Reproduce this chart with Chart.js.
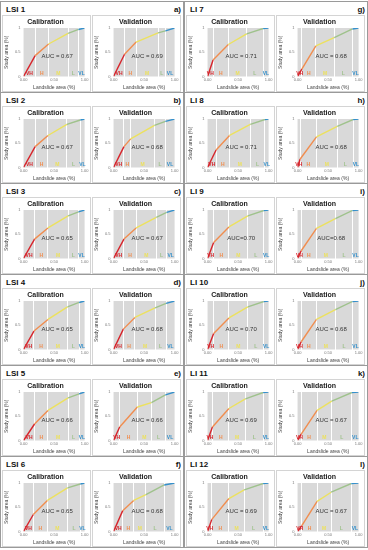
<!DOCTYPE html>
<html lang="en">
<head>
  <meta charset="UTF-8" />
  <title>Success rate curves</title>
  <script src="https://cdn.jsdelivr.net/npm/chart.js"></script>
  <style>
    * { box-sizing: border-box; }
    body { margin: 0; background: #fff; font-family: Arial, "Liberation Sans", sans-serif; }
    #fig { position: relative; width: 368px; height: 550px; }
    .panel { position: absolute; width: 184px; height: 92px; border: 1px solid #9a9a9a; }
    .panel .name { position: absolute; left: 5px; top: 3px; font-size: 8px; font-weight: bold; color: #111; }
    .panel .tag { position: absolute; right: 2px; top: 3px; font-size: 8px; font-weight: bold; color: #111; }
    .box { position: absolute; top: 13px; width: 89px; height: 77px; border: 1px solid #d4d4d4; }
    .box canvas { display: block; }
  </style>
</head>
<body>
  <div id="fig"></div>

  <script>
    const panelNames = ['LSI 1', 'LSI 2', 'LSI 3', 'LSI 4', 'LSI 5', 'LSI 6',
                        'LI 7', 'LI 8', 'LI 9', 'LI 10', 'LI 11', 'LI 12'];
    const panelTags = ['a)', 'b)', 'c)', 'd)', 'e)', 'f)', 'g)', 'h)', 'i)', 'j)', 'k)', 'l)'];
    const classNames = ['VH', 'H', 'M', 'L', 'VL'];
    const classColors = ['#d7232a', '#f08d4f', '#ece15e', '#9fc28c', '#3590cb'];
    const xTicks = [0, 0.5, 1];
    const yTicks = [0, 0.5, 1];

    // cumulative landslide area at the end of VH, H, M, L (VL always ends at 1)
    const calX = [
      [0.19, 0.41, 0.73, 0.90],
      [0.19, 0.40, 0.71, 0.93],
      [0.18, 0.40, 0.73, 0.90],
      [0.17, 0.40, 0.72, 0.91],
      [0.18, 0.40, 0.73, 0.91],
      [0.16, 0.39, 0.72, 0.93],
      [0.09, 0.34, 0.64, 0.91],
      [0.14, 0.36, 0.70, 0.94],
      [0.10, 0.35, 0.66, 0.92],
      [0.10, 0.35, 0.66, 0.92],
      [0.08, 0.35, 0.62, 0.91],
      [0.07, 0.35, 0.60, 0.91]
    ];
    const calY = [
      [0.43, 0.67, 0.89, 0.97],
      [0.43, 0.66, 0.89, 0.98],
      [0.40, 0.63, 0.88, 0.96],
      [0.38, 0.62, 0.88, 0.97],
      [0.34, 0.62, 0.88, 0.96],
      [0.35, 0.64, 0.90, 0.98],
      [0.34, 0.66, 0.88, 0.99],
      [0.36, 0.66, 0.89, 0.99],
      [0.33, 0.65, 0.88, 0.99],
      [0.33, 0.65, 0.88, 0.99],
      [0.28, 0.66, 0.86, 0.99],
      [0.25, 0.68, 0.86, 0.99]
    ];
    const valX = [
      [0.18, 0.37, 0.73, 0.85],
      [0.17, 0.28, 0.67, 0.85],
      [0.17, 0.37, 0.70, 0.87],
      [0.16, 0.35, 0.68, 0.86],
      [0.10, 0.39, 0.62, 0.85],
      [0.15, 0.33, 0.53, 0.83],
      [0.07, 0.30, 0.60, 0.90],
      [0.04, 0.31, 0.65, 0.91],
      [0.06, 0.31, 0.62, 0.90],
      [0.06, 0.31, 0.62, 0.90],
      [0.06, 0.32, 0.56, 0.89],
      [0.07, 0.32, 0.55, 0.88]
    ];
    const valY = [
      [0.46, 0.71, 0.90, 0.94],
      [0.43, 0.59, 0.87, 0.95],
      [0.40, 0.63, 0.85, 0.95],
      [0.42, 0.66, 0.86, 0.95],
      [0.28, 0.69, 0.78, 0.94],
      [0.43, 0.64, 0.76, 0.96],
      [0.15, 0.63, 0.80, 0.98],
      [0.17, 0.63, 0.85, 0.99],
      [0.16, 0.62, 0.82, 0.99],
      [0.16, 0.62, 0.82, 0.99],
      [0.13, 0.62, 0.81, 0.99],
      [0.12, 0.62, 0.81, 0.99]
    ];
    const calAuc = ['AUC = 0.67', 'AUC = 0.67', 'AUC = 0.65', 'AUC = 0.65', 'AUC = 0.66', 'AUC = 0.65',
                    'AUC = 0.71', 'AUC = 0.71', 'AUC=0.70', 'AUC = 0.70', 'AUC = 0.69', 'AUC = 0.69'];
    const valAuc = ['AUC = 0.69', 'AUC = 0.68', 'AUC = 0.67', 'AUC = 0.68', 'AUC = 0.66', 'AUC = 0.68',
                    'AUC = 0.68', 'AUC = 0.68', 'AUC=0.68', 'AUC = 0.68', 'AUC = 0.67', 'AUC = 0.67'];

    const FONT = 'Arial, "Liberation Sans", sans-serif';

    // grey plot background, class labels and AUC text
    const decor = {
      id: 'decor',
      beforeDraw(chart) {
        const { ctx, chartArea: a } = chart;
        ctx.save();
        ctx.fillStyle = '#d9d9d9';
        ctx.fillRect(a.left, a.top, a.width, a.height);
        ctx.restore();
      },
      afterDatasetsDraw(chart, args, opts) {
        const { ctx, chartArea: a, scales } = chart;
        const xs = opts.xs;
        ctx.save();
        ctx.textAlign = 'center';
        ctx.textBaseline = 'bottom';
        ctx.font = 'bold 5px ' + FONT;
        classNames.forEach((c, i) => {
          ctx.fillStyle = classColors[i];
          ctx.fillText(c, scales.x.getPixelForValue((xs[i] + xs[i + 1]) / 2), a.bottom - 0.5);
        });
        ctx.textBaseline = 'middle';
        ctx.font = '6px ' + FONT;
        ctx.fillStyle = '#333';
        ctx.fillText(opts.auc, scales.x.getPixelForValue(0.55), scales.y.getPixelForValue(0.42));
        ctx.restore();
      }
    };

    function makeChart(canvas, title, inner, innerY, auc) {
      const xs = [0, ...inner, 1];
      const ys = [0, ...innerY, 1];
      const pts = xs.map((v, i) => ({ x: v, y: ys[i] }));
      return new Chart(canvas, {
        type: 'scatter',
        data: {
          datasets: [{
            data: pts,
            showLine: true,
            pointRadius: 0,
            borderWidth: 1.4,
            borderColor: classColors[0],
            segment: { borderColor: c => classColors[c.p0DataIndex] }
          }]
        },
        options: {
          responsive: true,
          maintainAspectRatio: false,
          animation: false,
          events: [],
          layout: { padding: { left: 1, right: 3, bottom: 0, top: 0 } },
          plugins: {
            legend: { display: false },
            tooltip: { enabled: false },
            title: {
              display: true, text: title, color: '#222',
              font: { size: 7, weight: 'bold', family: FONT, lineHeight: 1 },
              padding: { top: 3, bottom: 2 }
            },
            decor: { xs: xs, auc: auc }
          },
          scales: {
            x: {
              type: 'linear', min: 0, max: 1,
              border: { display: false },
              afterBuildTicks: s => {
                s.ticks = [...xTicks, ...inner].sort((a, b) => a - b).map(v => ({ value: v }));
              },
              grid: {
                drawTicks: false,
                lineWidth: 1,
                color: c => inner.includes(c.tick.value) ? '#ffffff' : 'rgba(0,0,0,0)'
              },
              ticks: {
                autoSkip: false, maxRotation: 0, padding: 1.5,
                font: { size: 4, family: FONT, lineHeight: 1 }, color: '#777',
                callback: v => xTicks.includes(v) ? v.toFixed(2) : ''
              },
              title: {
                display: true, text: 'Landslide area (%)', color: '#444',
                font: { size: 5, family: FONT, lineHeight: 1 }, padding: { top: 1.5, bottom: 1 }
              }
            },
            y: {
              min: 0, max: 1,
              border: { display: false },
              grid: { display: false, drawTicks: false },
              afterBuildTicks: s => { s.ticks = yTicks.map(v => ({ value: v })); },
              ticks: {
                padding: 3, font: { size: 4, family: FONT, lineHeight: 1 }, color: '#777',
                callback: v => String(v)
              },
              title: {
                display: true, text: 'Study area (%)', color: '#444',
                font: { size: 5, family: FONT, lineHeight: 1 }, padding: { top: 0, bottom: 3 }
              }
            }
          }
        },
        plugins: [decor]
      });
    }

    const fig = document.getElementById('fig');
    panelNames.forEach((name, i) => {
      const col = i < 6 ? 0 : 1;
      const row = i % 6;
      const p = document.createElement('div');
      p.className = 'panel';
      p.style.left = (col * 184) + 'px';
      p.style.top = (1 + row * 91) + 'px';
      p.innerHTML = '<div class="name">' + name + '</div><div class="tag">' + panelTags[i] + '</div>';
      const b1 = document.createElement('div');
      b1.className = 'box';
      b1.style.left = '1px';
      const c1 = document.createElement('canvas');
      b1.appendChild(c1);
      const b2 = document.createElement('div');
      b2.className = 'box';
      b2.style.left = '91px';
      const c2 = document.createElement('canvas');
      b2.appendChild(c2);
      p.appendChild(b1);
      p.appendChild(b2);
      fig.appendChild(p);
      makeChart(c1, 'Calibration', calX[i], calY[i], calAuc[i]);
      makeChart(c2, 'Validation', valX[i], valY[i], valAuc[i]);
    });
  </script>
</body>
</html>
